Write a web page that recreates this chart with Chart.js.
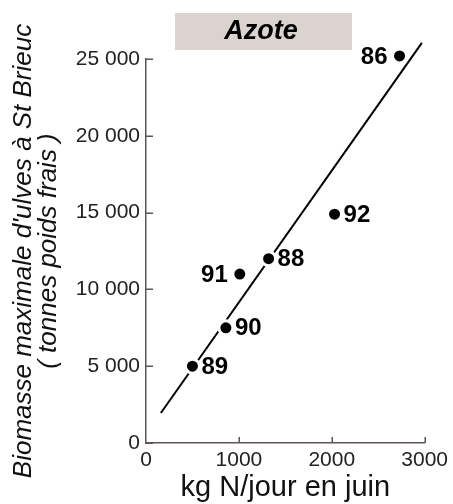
<!DOCTYPE html>
<html>
<head>
<meta charset="utf-8">
<script src="https://cdn.jsdelivr.net/npm/chart.js@4.4.1/dist/chart.umd.min.js"></script>
<style>
  html, body { margin: 0; padding: 0; background: #ffffff; }
  #wrap { width: 453px; height: 504px; }
</style>
</head>
<body>
<div id="wrap"><canvas id="c" width="453" height="504"></canvas></div>
<script>
// Années de mesure (étiquettes des points)
const years = ['86', '92', '88', '91', '90', '89'];
// Flux d'azote en juin (kg N/jour)
const nitrogen = [2730, 2030, 1320, 1010, 860, 500];
// Biomasse maximale d'ulves (tonnes poids frais)
const biomass = [25200, 14900, 12000, 11000, 7500, 5000];
// Côté où s'écrit chaque étiquette d'année
const labelSide = ['left', 'right', 'right', 'left', 'right', 'right'];
// Droite de régression (extrémités)
const fitX = [160, 2970];
const fitY = [1950, 26050];
// Graduations
const xTicks = [0, 1000, 2000, 3000];
const yTicks = [0, 5000, 10000, 15000, 20000, 25000];

const FONT = "'Liberation Sans', Arial, Helvetica, sans-serif";
const AXIS = '#5c5552';

const fmtThousands = v => v === 0 ? '0' : String(v).replace(/\B(?=(\d{3})+(?!\d))/g, ' ');

// Cadre grisé du titre
const titleBox = {
  id: 'titleBox',
  afterDraw(chart) {
    const ctx = chart.ctx;
    ctx.save();
    ctx.fillStyle = '#dad3cf';
    ctx.fillRect(175, 13, 177, 37);
    ctx.fillStyle = '#000';
    ctx.font = `italic bold 27px ${FONT}`;
    ctx.textAlign = 'center';
    ctx.textBaseline = 'middle';
    ctx.fillText('Azote', 261, 32);
    ctx.restore();
  }
};

// Graduations tournées vers l'intérieur
const innerTicks = {
  id: 'innerTicks',
  afterDraw(chart) {
    const { ctx, scales: { x, y }, chartArea } = chart;
    ctx.save();
    ctx.strokeStyle = AXIS;
    ctx.lineWidth = 1.5;
    ctx.beginPath();
    yTicks.forEach(v => {
      const py = Math.round(y.getPixelForValue(v)) + 0.25;
      ctx.moveTo(chartArea.left, py);
      ctx.lineTo(chartArea.left + 7, py);
    });
    xTicks.forEach(v => {
      if (v === 0) return;
      const px = Math.round(x.getPixelForValue(v)) + 0.25;
      ctx.moveTo(px, chartArea.bottom);
      ctx.lineTo(px, chartArea.bottom - 6);
    });
    ctx.stroke();
    ctx.restore();
  }
};

// Étiquettes des années à côté des points
const yearLabels = {
  id: 'yearLabels',
  afterDatasetsDraw(chart) {
    const ctx = chart.ctx;
    const meta = chart.getDatasetMeta(0);
    ctx.save();
    ctx.fillStyle = '#000';
    ctx.font = `bold 24px ${FONT}`;
    ctx.textBaseline = 'middle';
    meta.data.forEach((pt, i) => {
      if (labelSide[i] === 'left') {
        ctx.textAlign = 'right';
        ctx.fillText(years[i], pt.x - 12, pt.y + 1);
      } else {
        ctx.textAlign = 'left';
        ctx.fillText(years[i], pt.x + 9, pt.y + 1);
      }
    });
    ctx.restore();
  }
};

new Chart(document.getElementById('c'), {
  type: 'scatter',
  data: {
    datasets: [
      {
        data: nitrogen.map((n, i) => ({ x: n, y: biomass[i] })),
        backgroundColor: '#000',
        borderColor: '#fff',
        borderWidth: 3,
        pointRadius: 7,
        pointHoverRadius: 7,
        clip: false,
        order: 0
      },
      {
        type: 'line',
        data: fitX.map((v, i) => ({ x: v, y: fitY[i] })),
        borderColor: '#000',
        borderWidth: 2,
        pointRadius: 0,
        fill: false,
        clip: false,
        order: 1
      }
    ]
  },
  options: {
    responsive: false,
    devicePixelRatio: 1,
    animation: false,
    layout: { padding: { top: 59, right: 26, left: 0, bottom: 0 } },
    plugins: { legend: { display: false }, tooltip: { enabled: false } },
    scales: {
      x: {
        type: 'linear',
        min: 0, max: 3000,
        afterFit: s => { s.height = 61; },
        afterBuildTicks: s => { s.ticks = xTicks.map(v => ({ value: v })); },
        grid: { display: true, drawOnChartArea: false, drawTicks: false },
        border: { display: true, color: AXIS, width: 1.5 },
        ticks: {
          color: '#222',
          font: { family: FONT, size: 21 },
          padding: 5,
          maxRotation: 0,
          callback: v => String(v)
        },
        title: {
          display: true,
          text: 'kg N/jour en juin',
          color: '#111',
          font: { family: FONT, size: 29, lineHeight: 1.1 },
          padding: { top: 0, bottom: 0 }
        }
      },
      y: {
        type: 'linear',
        min: 0, max: 25000,
        afterFit: s => { s.width = 146; },
        afterBuildTicks: s => { s.ticks = yTicks.map(v => ({ value: v })); },
        grid: { display: true, drawOnChartArea: false, drawTicks: false },
        border: { display: true, color: AXIS, width: 1.5 },
        ticks: {
          color: '#222',
          font: { family: FONT, size: 21 },
          padding: 6,
          callback: v => fmtThousands(v)
        },
        title: {
          display: true,
          text: ["Biomasse maximale d'ulves à St Brieuc", '( tonnes poids frais )'],
          color: '#111',
          font: { family: FONT, size: 26, style: 'italic', lineHeight: '25px' },
          padding: { top: 11, bottom: 0 }
        }
      }
    }
  },
  plugins: [titleBox, innerTicks, yearLabels]
});
</script>
</body>
</html>
